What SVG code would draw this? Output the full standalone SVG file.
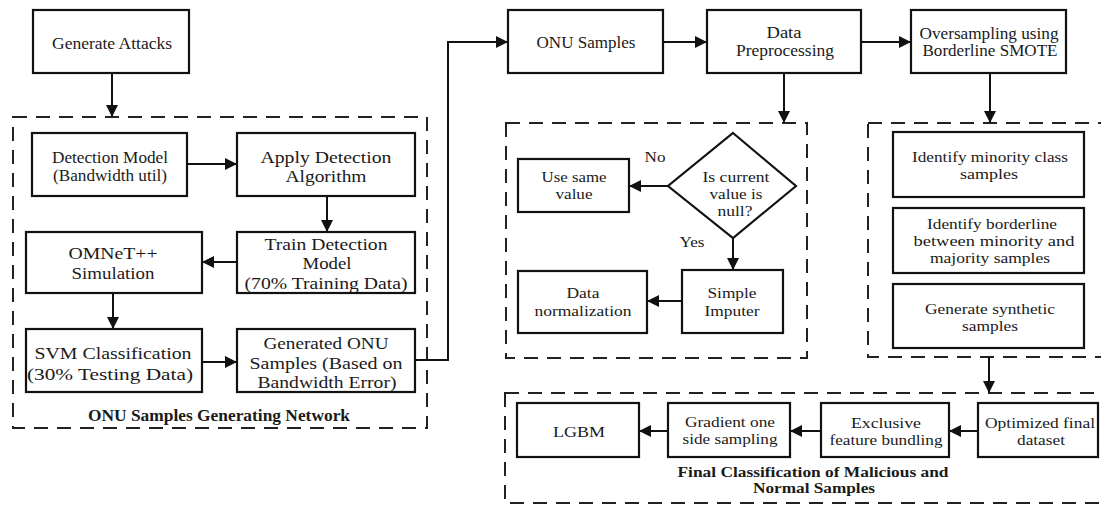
<svg xmlns="http://www.w3.org/2000/svg" width="1101" height="507" viewBox="0 0 1101 507">
<style>
.box{fill:#fff;stroke:#111;stroke-width:2.2}
.cont{fill:none;stroke:#222;stroke-width:2;stroke-dasharray:14 9}
.con{fill:none;stroke:#111;stroke-width:2}
text{font-family:"Liberation Serif","Times New Roman",serif;fill:#1a1a1a;text-anchor:middle;dominant-baseline:central}
.s15{font-size:15px}.s16{font-size:16px}.s17{font-size:17px}
.b{font-weight:bold}
</style>
<defs>
<marker id="ah" markerUnits="userSpaceOnUse" markerWidth="12" markerHeight="12" refX="12" refY="6" orient="auto">
<path d="M0,0 L12,6 L0,12 z" fill="#111"/>
</marker>
</defs>
<rect width="1101" height="507" fill="#fff"/>

<g id="containers">
<rect id="cont-onu-gen" class="cont" x="13" y="117" width="414" height="311"/>
<rect id="cont-preproc" class="cont" x="506" y="123" width="301" height="235"/>
<rect id="cont-smote" class="cont" x="868" y="123" width="245" height="234"/>
<rect id="cont-final" class="cont" x="505" y="393" width="610" height="110"/>
</g>

<g id="connectors">
<line class="con" x1="112" y1="73" x2="112" y2="117" marker-end="url(#ah)"/>
<line class="con" x1="187" y1="164" x2="237" y2="164" marker-end="url(#ah)"/>
<line class="con" x1="327" y1="196" x2="327" y2="232" marker-end="url(#ah)"/>
<line class="con" x1="237" y1="262" x2="202" y2="262" marker-end="url(#ah)"/>
<line class="con" x1="113" y1="293" x2="113" y2="329" marker-end="url(#ah)"/>
<line class="con" x1="202" y1="362" x2="237" y2="362" marker-end="url(#ah)"/>
<path class="con" d="M415,360 H448 V42 H508" marker-end="url(#ah)"/>
<line class="con" x1="663" y1="42" x2="707" y2="42" marker-end="url(#ah)"/>
<line class="con" x1="861" y1="42" x2="911" y2="42" marker-end="url(#ah)"/>
<line class="con" x1="784" y1="73" x2="784" y2="123" marker-end="url(#ah)"/>
<line class="con" x1="990" y1="73" x2="990" y2="123" marker-end="url(#ah)"/>
<line class="con" x1="668" y1="186" x2="629" y2="186" marker-end="url(#ah)"/>
<line class="con" x1="733" y1="238" x2="733" y2="270" marker-end="url(#ah)"/>
<line class="con" x1="682" y1="301" x2="647" y2="301" marker-end="url(#ah)"/>
<line class="con" x1="989" y1="357" x2="989" y2="393" marker-end="url(#ah)"/>
<line class="con" x1="978" y1="431" x2="949" y2="431" marker-end="url(#ah)"/>
<line class="con" x1="821" y1="431" x2="790" y2="431" marker-end="url(#ah)"/>
<line class="con" x1="668" y1="431" x2="639" y2="431" marker-end="url(#ah)"/>
</g>

<g id="generate-attacks">
<rect class="box" x="33" y="10" width="156" height="63"/>
<text class="s16" x="112" y="43" textLength="120" lengthAdjust="spacingAndGlyphs">Generate Attacks</text>
</g>
<g id="detection-model">
<rect class="box" x="32" y="133" width="155" height="63"/>
<text class="s16" x="110" y="157" textLength="116" lengthAdjust="spacingAndGlyphs">Detection Model</text>
<text class="s16" x="110" y="175" textLength="114" lengthAdjust="spacingAndGlyphs">(Bandwidth util)</text>
</g>
<g id="apply-detection">
<rect class="box" x="237" y="133" width="178" height="63"/>
<text class="s17" x="326" y="157" textLength="131" lengthAdjust="spacingAndGlyphs">Apply Detection</text>
<text class="s17" x="326" y="176" textLength="81" lengthAdjust="spacingAndGlyphs">Algorithm</text>
</g>
<g id="train-detection">
<rect class="box" x="237" y="232" width="178" height="61"/>
<text class="s17" x="326" y="244" textLength="123" lengthAdjust="spacingAndGlyphs">Train Detection</text>
<text class="s17" x="327" y="263" textLength="49" lengthAdjust="spacingAndGlyphs">Model</text>
<text class="s17" x="326" y="283" textLength="163" lengthAdjust="spacingAndGlyphs">(70% Training Data)</text>
</g>
<g id="omnet">
<rect class="box" x="26" y="232" width="176" height="61"/>
<text class="s17" x="113" y="253" textLength="89" lengthAdjust="spacingAndGlyphs">OMNeT++</text>
<text class="s17" x="113" y="273" textLength="83" lengthAdjust="spacingAndGlyphs">Simulation</text>
</g>
<g id="svm">
<rect class="box" x="26" y="329" width="176" height="63"/>
<text class="s17" x="113" y="353" textLength="157" lengthAdjust="spacingAndGlyphs">SVM Classification</text>
<text class="s17" x="110" y="374" textLength="166" lengthAdjust="spacingAndGlyphs">(30% Testing Data)</text>
</g>
<g id="generated-onu">
<rect class="box" x="237" y="329" width="178" height="63"/>
<text class="s17" x="326" y="343" textLength="125" lengthAdjust="spacingAndGlyphs">Generated ONU</text>
<text class="s17" x="326" y="363" textLength="153" lengthAdjust="spacingAndGlyphs">Samples (Based on</text>
<text class="s17" x="327" y="382" textLength="139" lengthAdjust="spacingAndGlyphs">Bandwidth Error)</text>
</g>
<g id="label-onu-network">
<text class="s16 b" x="219" y="415" textLength="262" lengthAdjust="spacingAndGlyphs">ONU Samples Generating Network</text>
</g>

<g id="onu-samples">
<rect class="box" x="508" y="10" width="155" height="63"/>
<text class="s16" x="586" y="42" textLength="99" lengthAdjust="spacingAndGlyphs">ONU Samples</text>
</g>
<g id="data-preprocessing">
<rect class="box" x="707" y="10" width="154" height="63"/>
<text class="s16" x="784" y="32" textLength="35" lengthAdjust="spacingAndGlyphs">Data</text>
<text class="s16" x="785" y="50" textLength="98" lengthAdjust="spacingAndGlyphs">Preprocessing</text>
</g>
<g id="oversampling">
<rect class="box" x="911" y="10" width="155" height="63"/>
<text class="s16" x="989" y="33" textLength="139" lengthAdjust="spacingAndGlyphs">Oversampling using</text>
<text class="s16" x="990" y="50" textLength="135" lengthAdjust="spacingAndGlyphs">Borderline SMOTE</text>
</g>

<g id="use-same-value">
<rect class="box" x="518" y="159" width="111" height="53"/>
<text class="s15" x="574" y="177" textLength="65" lengthAdjust="spacingAndGlyphs">Use same</text>
<text class="s15" x="574" y="194" textLength="37" lengthAdjust="spacingAndGlyphs">value</text>
</g>
<g id="is-null">
<polygon class="box" points="733,133 796,186 733,238 668,186"/>
<text class="s15" x="736" y="177" textLength="67" lengthAdjust="spacingAndGlyphs">Is current</text>
<text class="s15" x="736" y="194" textLength="53" lengthAdjust="spacingAndGlyphs">value is</text>
<text class="s15" x="735" y="211" textLength="35" lengthAdjust="spacingAndGlyphs">null?</text>
</g>
<g id="labels-yes-no">
<text class="s15" x="655" y="157" textLength="21" lengthAdjust="spacingAndGlyphs">No</text>
<text class="s15" x="692" y="242" textLength="25" lengthAdjust="spacingAndGlyphs">Yes</text>
</g>
<g id="simple-imputer">
<rect class="box" x="682" y="270" width="101" height="63"/>
<text class="s15" x="732" y="293" textLength="49" lengthAdjust="spacingAndGlyphs">Simple</text>
<text class="s15" x="732" y="311" textLength="55" lengthAdjust="spacingAndGlyphs">Imputer</text>
</g>
<g id="data-normalization">
<rect class="box" x="518" y="271" width="129" height="62"/>
<text class="s15" x="583" y="293" textLength="33" lengthAdjust="spacingAndGlyphs">Data</text>
<text class="s15" x="583" y="311" textLength="97" lengthAdjust="spacingAndGlyphs">normalization</text>
</g>

<g id="identify-minority">
<rect class="box" x="893" y="132" width="191" height="65"/>
<text class="s15" x="990" y="157" textLength="156" lengthAdjust="spacingAndGlyphs">Identify minority class</text>
<text class="s15" x="989" y="174" textLength="58" lengthAdjust="spacingAndGlyphs">samples</text>
</g>
<g id="identify-borderline">
<rect class="box" x="893" y="208" width="191" height="65"/>
<text class="s15" x="992" y="224" textLength="130" lengthAdjust="spacingAndGlyphs">Identify borderline</text>
<text class="s15" x="994" y="241" textLength="161" lengthAdjust="spacingAndGlyphs">between minority and</text>
<text class="s15" x="990" y="258" textLength="120" lengthAdjust="spacingAndGlyphs">majority samples</text>
</g>
<g id="generate-synthetic">
<rect class="box" x="893" y="284" width="191" height="64"/>
<text class="s15" x="990" y="309" textLength="130" lengthAdjust="spacingAndGlyphs">Generate synthetic</text>
<text class="s15" x="990" y="326" textLength="56" lengthAdjust="spacingAndGlyphs">samples</text>
</g>

<g id="optimized-dataset">
<rect class="box" x="978" y="403" width="120" height="54"/>
<text class="s15" x="1040" y="423" textLength="110" lengthAdjust="spacingAndGlyphs">Optimized final</text>
<text class="s15" x="1041" y="440" textLength="48" lengthAdjust="spacingAndGlyphs">dataset</text>
</g>
<g id="exclusive-feature">
<rect class="box" x="821" y="403" width="128" height="54"/>
<text class="s15" x="886" y="423" textLength="70" lengthAdjust="spacingAndGlyphs">Exclusive</text>
<text class="s15" x="886" y="440" textLength="113" lengthAdjust="spacingAndGlyphs">feature bundling</text>
</g>
<g id="gradient-sampling">
<rect class="box" x="668" y="403" width="122" height="54"/>
<text class="s15" x="730" y="422" textLength="90" lengthAdjust="spacingAndGlyphs">Gradient one</text>
<text class="s15" x="730" y="439" textLength="95" lengthAdjust="spacingAndGlyphs">side sampling</text>
</g>
<g id="lgbm">
<rect class="box" x="517" y="403" width="122" height="54"/>
<text class="s15" x="579" y="432" textLength="52" lengthAdjust="spacingAndGlyphs">LGBM</text>
</g>
<g id="label-final">
<text class="s15 b" x="813" y="472" textLength="271" lengthAdjust="spacingAndGlyphs">Final Classification of Malicious and</text>
<text class="s15 b" x="814" y="488" textLength="122" lengthAdjust="spacingAndGlyphs">Normal Samples</text>
</g>
</svg>
